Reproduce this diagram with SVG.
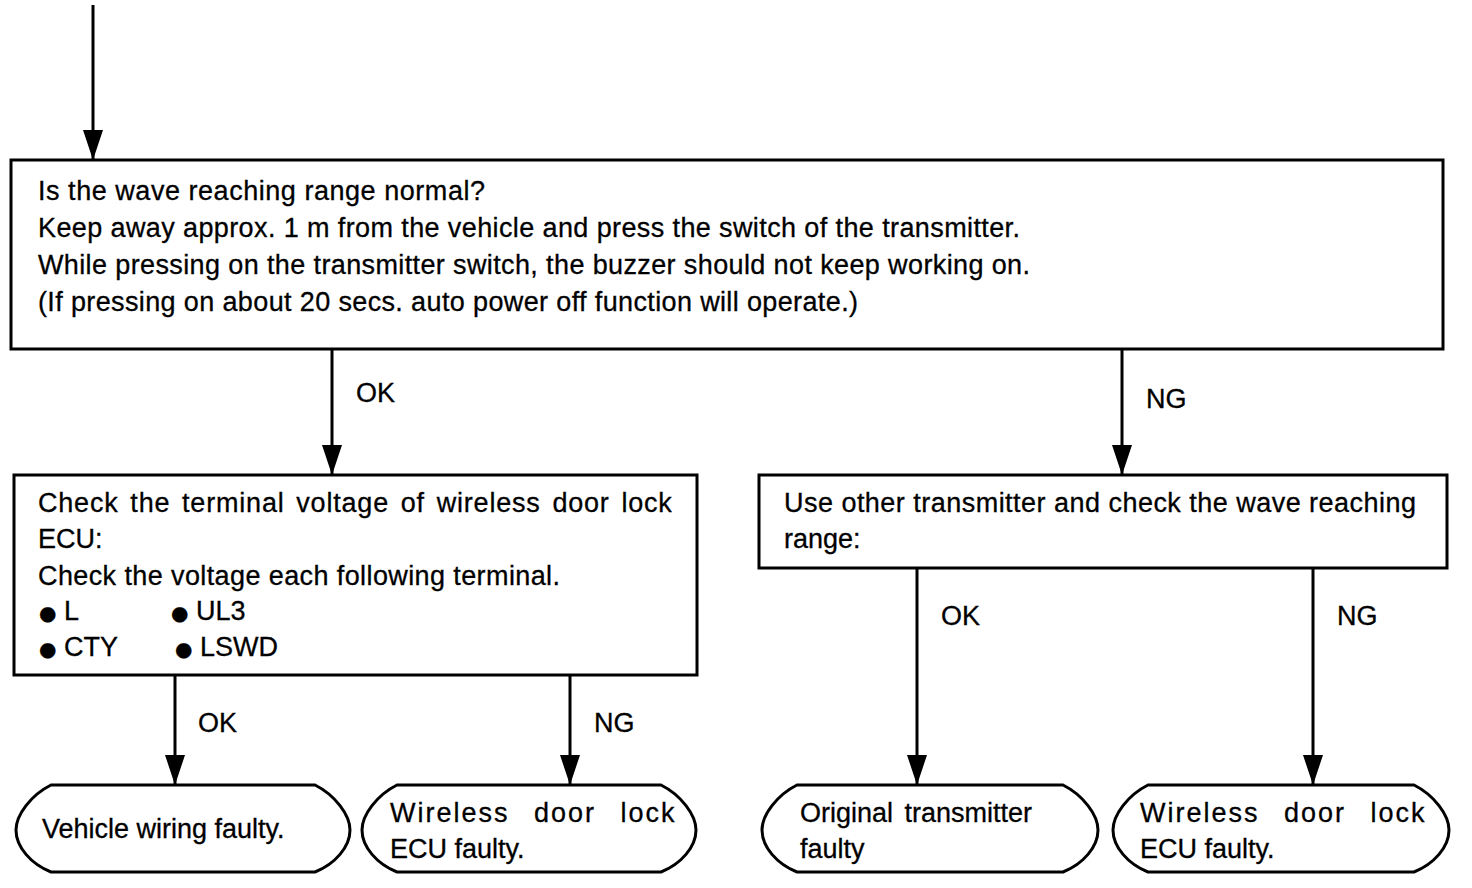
<svg xmlns="http://www.w3.org/2000/svg" width="1472" height="888" viewBox="0 0 1472 888">
<style>
.box{fill:#fff;stroke:#000;stroke-width:3}
.term{fill:#fff;stroke:#000;stroke-width:3}
.t{font-family:"Liberation Sans",Arial,sans-serif;font-size:27px;fill:#000;stroke:#000;stroke-width:0.3}
.b{font-family:"DejaVu Sans",sans-serif;font-size:20px}
.c{stroke:#000;stroke-width:3;fill:none}
.wdl{letter-spacing:2px;word-spacing:15px}
</style>
<defs>
<marker id="ah" viewBox="0 0 30 20" refX="30" refY="10" markerWidth="30" markerHeight="20" markerUnits="userSpaceOnUse" orient="auto">
<path d="M0,0 L30,10 L0,20 z" fill="#000"/>
</marker>
</defs>
<rect width="1472" height="888" fill="#fff"/>
<g id="connectors">
<line class="c" x1="93" y1="5" x2="93" y2="160" marker-end="url(#ah)"/>
<line class="c" x1="332" y1="349" x2="332" y2="475" marker-end="url(#ah)"/>
<line class="c" x1="1122" y1="349" x2="1122" y2="475" marker-end="url(#ah)"/>
<line class="c" x1="175" y1="675" x2="175" y2="785" marker-end="url(#ah)"/>
<line class="c" x1="570" y1="675" x2="570" y2="785" marker-end="url(#ah)"/>
<line class="c" x1="917" y1="568" x2="917" y2="785" marker-end="url(#ah)"/>
<line class="c" x1="1313" y1="568" x2="1313" y2="785" marker-end="url(#ah)"/>
<text class="t" x="356" y="402">OK</text>
<text class="t" x="1146" y="408">NG</text>
<text class="t" x="198" y="732">OK</text>
<text class="t" x="594" y="732">NG</text>
<text class="t" x="941" y="625">OK</text>
<text class="t" x="1337" y="625">NG</text>
</g>
<g id="n1">
<rect class="box" x="11" y="160" width="1432" height="189"/>
<text class="t" x="38" y="200" textLength="447" lengthAdjust="spacing">Is the wave reaching range normal?</text>
<text class="t" x="38" y="237" textLength="982" lengthAdjust="spacing">Keep away approx. 1 m from the vehicle and press the switch of the transmitter.</text>
<text class="t" x="38" y="274" textLength="992" lengthAdjust="spacing">While pressing on the transmitter switch, the buzzer should not keep working on.</text>
<text class="t" x="38" y="311" textLength="820" lengthAdjust="spacing">(If pressing on about 20 secs. auto power off function will operate.)</text>
</g>
<g id="n2">
<rect class="box" x="14" y="475" width="683" height="200"/>
<text class="t" x="38" y="512" style="letter-spacing:0.8px;word-spacing:3.5px">Check the terminal voltage of wireless door lock</text>
<text class="t" x="38" y="548">ECU:</text>
<text class="t" x="38" y="585" textLength="522" lengthAdjust="spacing">Check the voltage each following terminal.</text>
<text class="t" x="39" y="620"><tspan class="b">●</tspan> L</text>
<text class="t" x="171" y="620"><tspan class="b">●</tspan> UL3</text>
<text class="t" x="39" y="656"><tspan class="b">●</tspan> CTY</text>
<text class="t" x="175" y="656"><tspan class="b">●</tspan> LSWD</text>
</g>
<g id="n3">
<rect class="box" x="759" y="475" width="688" height="93"/>
<text class="t" x="784" y="512" textLength="632" lengthAdjust="spacing">Use other transmitter and check the wave reaching</text>
<text class="t" x="784" y="548">range:</text>
</g>
<g id="t1">
<path class="term" d="M51,785 L315,785 C335,795 350,815 350,830 C350,847 335,864 315,872 L51,872 C31,864 16,847 16,830 C16,815 31,795 51,785 Z"/>
<text class="t" x="42" y="838">Vehicle wiring faulty.</text>
</g>
<g id="t2">
<path class="term" d="M397,785 L661,785 C681,795 696,815 696,830 C696,847 681,864 661,872 L397,872 C377,864 362,847 362,830 C362,815 377,795 397,785 Z"/>
<text class="t wdl" x="390" y="822">Wireless door lock</text>
<text class="t" x="390" y="858">ECU faulty.</text>
</g>
<g id="t3">
<path class="term" d="M797,785 L1063,785 C1083,795 1098,815 1098,830 C1098,847 1083,864 1063,872 L797,872 C777,864 762,847 762,830 C762,815 777,795 797,785 Z"/>
<text class="t" x="800" y="822" style="word-spacing:4px">Original transmitter</text>
<text class="t" x="800" y="858">faulty</text>
</g>
<g id="t4">
<path class="term" d="M1148,785 L1414,785 C1434,795 1449,815 1449,830 C1449,847 1434,864 1414,872 L1148,872 C1128,864 1113,847 1113,830 C1113,815 1128,795 1148,785 Z"/>
<text class="t wdl" x="1140" y="822">Wireless door lock</text>
<text class="t" x="1140" y="858">ECU faulty.</text>
</g>
</svg>
